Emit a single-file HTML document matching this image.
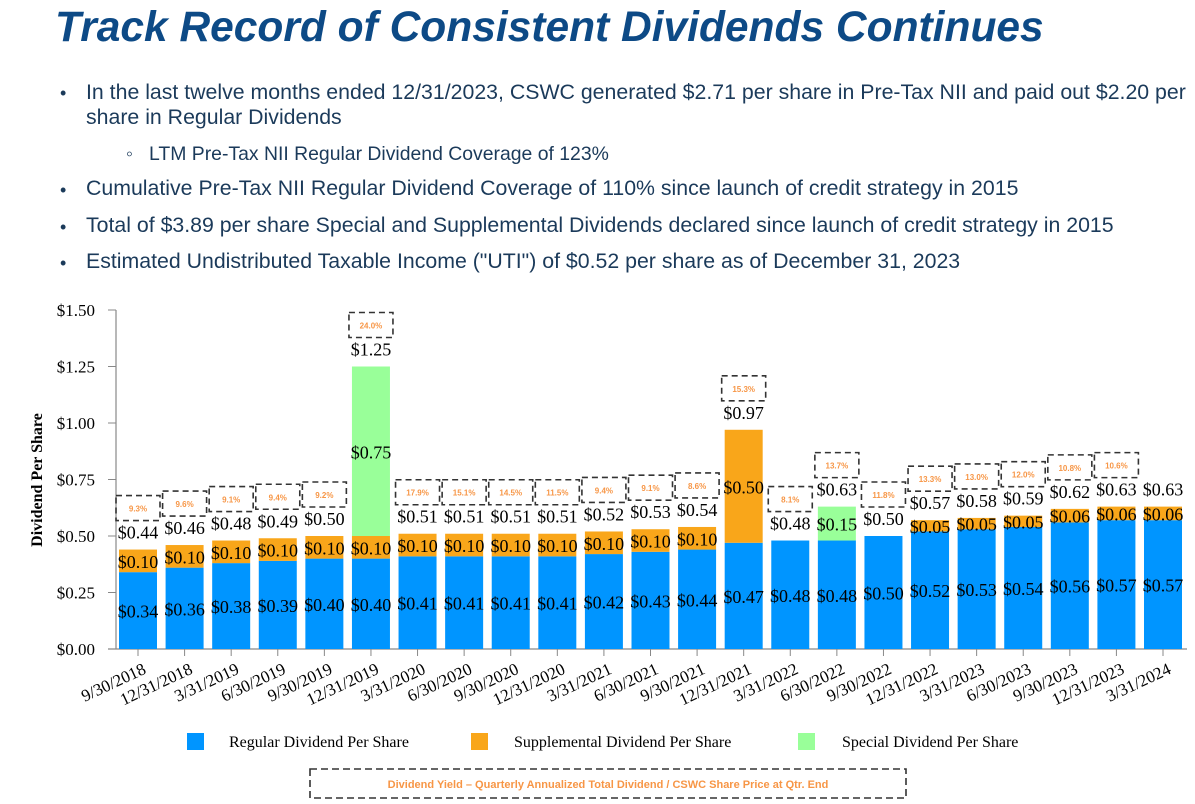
<!DOCTYPE html>
<html><head><meta charset="utf-8"><style>
body{margin:0;width:1195px;height:804px;background:#fff;overflow:hidden;position:relative;font-family:"Liberation Sans",sans-serif}
.t{position:absolute;left:55px;top:4px;font-size:42.5px;font-weight:bold;font-style:italic;color:#0d4a86;white-space:nowrap}
.b{position:absolute;font-size:21.3px;color:#1b3a5a;white-space:nowrap}
.d{position:absolute;font-size:18px;color:#1b3a5a}
</style></head><body>
<div class="t">Track Record of Consistent Dividends Continues</div>
<div class="d" style="left:60px;top:83px">•</div>
<div class="b" style="left:86px;top:80px">In the last twelve months ended 12/31/2023, CSWC generated $2.71 per share in Pre-Tax NII and paid out $2.20 per</div>
<div class="b" style="left:86px;top:105px">share in Regular Dividends</div>
<div class="b" style="left:126px;top:143px;font-size:19.4px">◦&nbsp;&nbsp; LTM Pre-Tax NII Regular Dividend Coverage of 123%</div>
<div class="d" style="left:60px;top:180px">•</div>
<div class="b" style="left:86px;top:176px">Cumulative Pre-Tax NII Regular Dividend Coverage of 110% since launch of credit strategy in 2015</div>
<div class="d" style="left:60px;top:217px">•</div>
<div class="b" style="left:86px;top:213px">Total of $3.89 per share Special and Supplemental Dividends declared since launch of credit strategy in 2015</div>
<div class="d" style="left:60px;top:253px">•</div>
<div class="b" style="left:86px;top:249px">Estimated Undistributed Taxable Income ("UTI") of $0.52 per share as of December 31, 2023</div>
<svg id="c" width="1195" height="804" style="position:absolute;left:0;top:0"></svg>
<script>
const categories=["9/30/2018","12/31/2018","3/31/2019","6/30/2019","9/30/2019","12/31/2019","3/31/2020","6/30/2020","9/30/2020","12/31/2020","3/31/2021","6/30/2021","9/30/2021","12/31/2021","3/31/2022","6/30/2022","9/30/2022","12/31/2022","3/31/2023","6/30/2023","9/30/2023","12/31/2023","3/31/2024"];
const regular=[0.34,0.36,0.38,0.39,0.40,0.40,0.41,0.41,0.41,0.41,0.42,0.43,0.44,0.47,0.48,0.48,0.50,0.52,0.53,0.54,0.56,0.57,0.57];
const supplemental=[0.10,0.10,0.10,0.10,0.10,0.10,0.10,0.10,0.10,0.10,0.10,0.10,0.10,0.50,0,0,0,0.05,0.05,0.05,0.06,0.06,0.06];
const special=[0,0,0,0,0,0.75,0,0,0,0,0,0,0,0,0,0.15,0,0,0,0,0,0,0];
const totals=[0.44,0.46,0.48,0.49,0.50,1.25,0.51,0.51,0.51,0.51,0.52,0.53,0.54,0.97,0.48,0.63,0.50,0.57,0.58,0.59,0.62,0.63,0.63];
const yields=["9.3%","9.6%","9.1%","9.4%","9.2%","24.0%","17.9%","15.1%","14.5%","11.5%","9.4%","9.1%","8.6%","15.3%","8.1%","13.7%","11.8%","13.3%","13.0%","12.0%","10.8%","10.6%",null];
const yTicks=[0,0.25,0.5,0.75,1.0,1.25,1.5];
const svg=document.getElementById('c');const NS='http://www.w3.org/2000/svg';
function y(v){return 649-v*(649-310)/1.5}
function x(i){return 138+i*(1163-138)/22}
function el(t,a,txt){const e=document.createElementNS(NS,t);for(const k in a)e.setAttribute(k,a[k]);if(txt!=null)e.textContent=txt;svg.appendChild(e);return e}
const serif='"Liberation Serif",serif';
let e=el('line',{x1:116,y1:310,x2:116,y2:649,stroke:'#888','stroke-width':1.2});

e=el('line',{x1:108,y1:649,x2:1187,y2:649,stroke:'#888','stroke-width':1.2});

yTicks.forEach(v=>{el('line',{x1:108,y1:y(v),x2:116,y2:y(v),stroke:'#888'});
 e=el('text',{x:95,y:y(v)+6,'text-anchor':'end','font-family':serif,'font-size':17},'$'+v.toFixed(2));
 });
e=el('text',{x:0,y:0,transform:'translate(42,480) rotate(-90)','text-anchor':'middle','font-family':serif,'font-size':16,'font-weight':'bold'},'Dividend Per Share');

const bw=38;
categories.forEach((c,i)=>{
 const cx=x(i);let base=0;
 el('line',{x1:cx,y1:649,x2:cx,y2:656,stroke:'#888'});
 [[regular,'#0095ff','regular'],[supplemental,'#f9a61a','supplemental'],[special,'#99ff99','special']].forEach(([arr,col,nm])=>{
  const v=arr[i];if(v<=0)return;
  e=el('rect',{x:cx-bw/2,y:y(base+v),width:bw,height:y(base)-y(base+v),fill:col});
  
  e=el('text',{x:cx,y:(y(base)+y(base+v))/2+7,'text-anchor':'middle','font-family':serif,'font-size':18},'$'+v.toFixed(2));
  
  base+=v;});
 const top=y(totals[i]);
 e=el('text',{x:cx,y:top-11,'text-anchor':'middle','font-family':serif,'font-size':18},'$'+totals[i].toFixed(2));
 
 if(yields[i]){
  e=el('rect',{x:cx-22,y:top-54,width:44,height:25,fill:'none',stroke:'#333','stroke-width':1.6,'stroke-dasharray':'6,4'});
  
  e=el('text',{x:cx,y:top-38,'text-anchor':'middle','font-family':'"Liberation Sans",sans-serif','font-size':8,'font-weight':'bold',fill:'#f79646'},yields[i]);
  }
 e=el('text',{x:0,y:0,transform:`translate(${cx+4},${662}) rotate(-25)`,'text-anchor':'end','font-family':serif,'font-size':17,'dominant-baseline':'hanging'},c);
 
});
[[187,229,'#0095ff','Regular Dividend Per Share'],[471,514,'#f9a61a','Supplemental Dividend Per Share'],[798,842,'#99ff99','Special Dividend Per Share']].forEach(([sx,tx,col,t])=>{
 e=el('rect',{x:sx,y:733,width:17,height:17,fill:col});
 
 e=el('text',{x:tx,y:747,'font-family':serif,'font-size':16},t);
 });
e=el('rect',{x:310,y:769,width:596,height:29,fill:'none',stroke:'#333','stroke-width':1.6,'stroke-dasharray':'7,4'});

e=el('text',{x:608,y:788,'text-anchor':'middle','font-family':'"Liberation Sans",sans-serif','font-size':11,'font-weight':'bold',fill:'#f79646'},'Dividend Yield – Quarterly Annualized Total Dividend / CSWC Share Price at Qtr. End');

</script>
</body></html>
